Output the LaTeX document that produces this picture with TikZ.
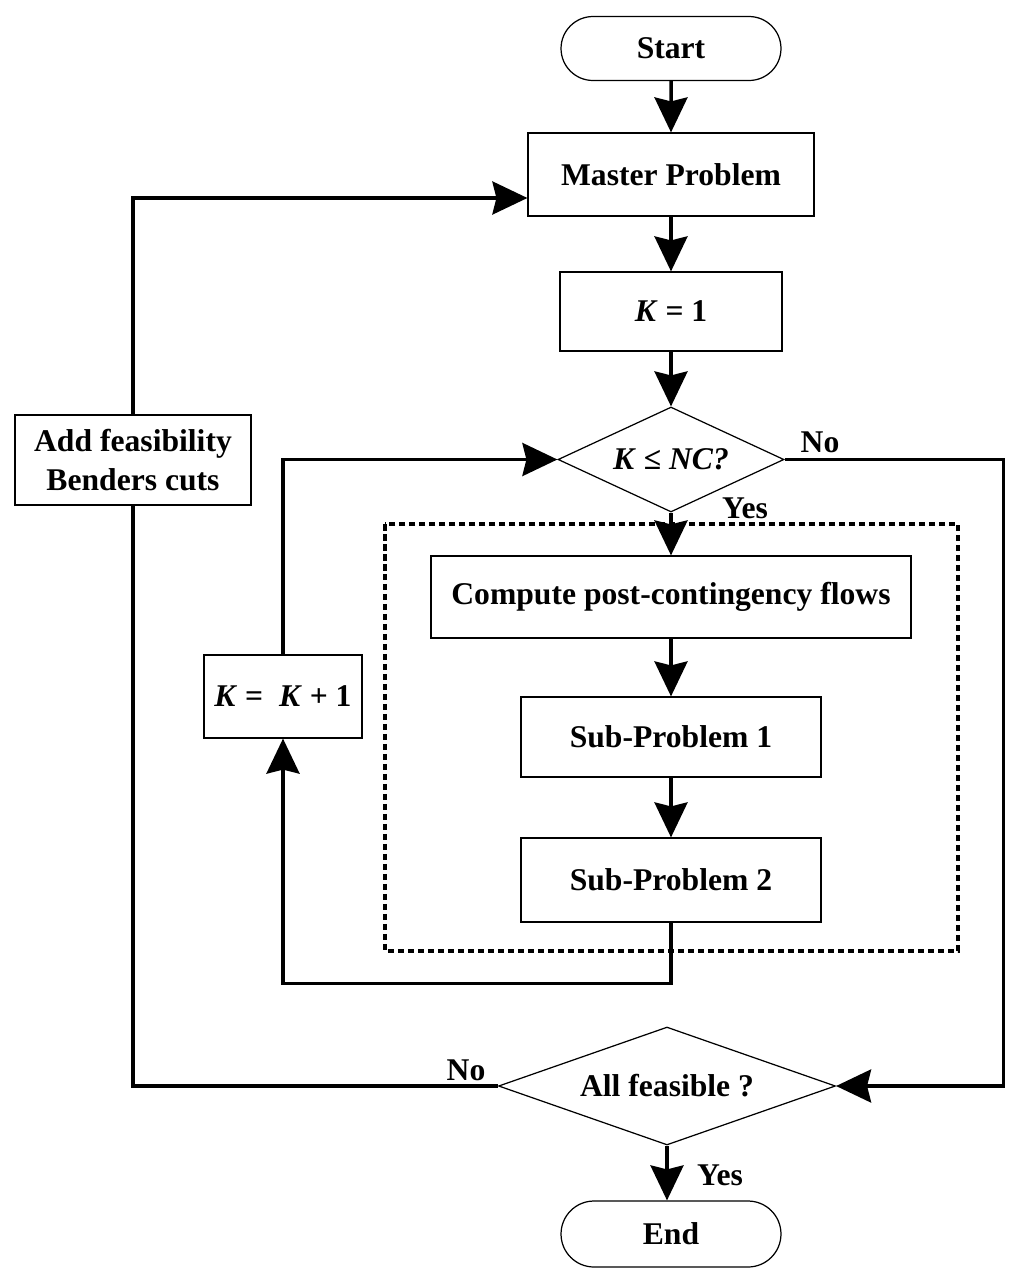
\documentclass[tikz,border=0pt]{standalone}
\usepackage{fontspec}
\setmainfont{Liberation Serif}
\usetikzlibrary{shapes.geometric,shapes.misc,arrows.meta}

\begin{document}
\begin{tikzpicture}[x=0.02cm, y=-0.02cm,
    txt/.style={font=\bfseries\fontsize{18}{22}\selectfont},
    caja/.style={txt, draw, line width=0.7pt, inner sep=0pt},
    term/.style={caja, rounded rectangle, minimum width=4.4cm},
    rombo/.style={caja, diamond, aspect=2.8},
    linea/.style={line width=2pt},
    flecha/.style={linea, -{Stealth[length=0.7cm, width=0.66cm, inset=0.08cm]}}]

    \useasboundingbox (0,0) rectangle (1024,1285);

    % Columna principal
    \node[term, minimum height=1.28cm] (start) at (671,48.5) {Start};
    \node[caja, minimum width=5.72cm, minimum height=1.66cm] (master) at (671,174.5) {Master Problem};
    \node[caja, minimum width=4.44cm, minimum height=1.58cm] (kone) at (671,311.5) {\textit{K} = 1};
    \node[rombo, minimum width=4.52cm, minimum height=2.1cm] (check) at (671,459.5) {\textit{K} ≤ \textit{NC?}};

    % Contingencias
    \draw[line width=0.07cm, dash pattern=on 0.13cm off 0.07cm] (385,524) rectangle (958,951);
    \node[caja, minimum width=9.6cm, minimum height=1.64cm] (compute) at (671,597) {Compute post-contingency flows};
    \node[caja, minimum width=6cm, minimum height=1.6cm] (subone) at (671,737) {Sub-Problem 1};
    \node[caja, minimum width=6cm, minimum height=1.68cm] (subtwo) at (671,880) {Sub-Problem 2};

    % Lazo lateral
    \node[caja, minimum width=3.16cm, minimum height=1.66cm] (kinc) at (283,696.5) {\textit{K} =~~\textit{K} + 1};
    \node[caja, minimum width=4.72cm, minimum height=1.8cm, align=center] (cuts) at (133,460) {Add feasibility\\ Benders cuts};

    % Final
    \node[rombo, minimum width=6.74cm, minimum height=2.36cm] (feasible) at (667,1086) {All feasible ?};
    \node[term, minimum height=1.32cm] (finish) at (671,1234) {End};

    % Etiquetas
    \node[txt, anchor=base] (noa) at (820,452) {No};
    \node[txt, anchor=base] (yesa) at (745,518) {Yes};
    \node[txt, anchor=base] (nob) at (466,1080) {No};
    \node[txt, anchor=base] (yesb) at (720,1185) {Yes};

    % Flechas
    \draw[flecha] (start) -- (master);
    \draw[flecha] (master) -- (kone);
    \draw[flecha] (kone) -- (check);
    \draw[flecha] (check) -- (compute);
    \draw[flecha] (compute) -- (subone);
    \draw[flecha] (subone) -- (subtwo);
    \draw[flecha] (subtwo.south) -- ++(0,61) -| (kinc.south);
    \draw[flecha] (kinc.north) |- (check.west);
    \draw[flecha] (check.east) -- ++(219,0) |- (feasible.east);
    \draw[linea] (feasible.west) -| (cuts.south);
    \draw[flecha] (cuts.north) |- ([yshift=-0.47cm]master.west);
    \draw[flecha] (feasible.south) -- (feasible.south |- finish.north);

\end{tikzpicture}
\end{document}
